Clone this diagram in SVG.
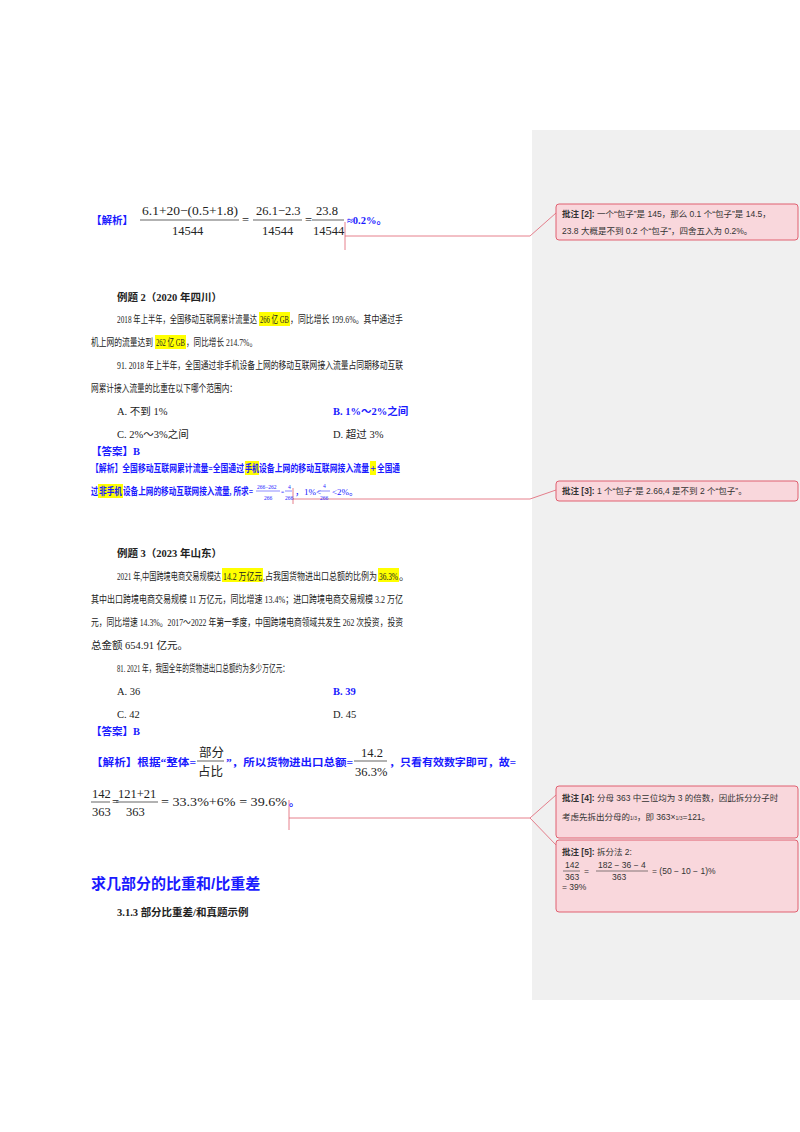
<svg xmlns="http://www.w3.org/2000/svg" width="800" height="1132" viewBox="0 0 800 1132">
<style>
text{font-family:"Liberation Serif","Noto Sans CJK SC",serif;font-size:10.5px;fill:#222}
.b{font-weight:bold}
.bl{fill:#1a1aff;font-weight:bold}
.blt{fill:#1a1aff}
.hl{fill:#ffff00}
.cm{font-family:"Liberation Sans","Noto Sans CJK SC",sans-serif;font-size:8.5px;fill:#333}
.box{fill:#f9d7dc;stroke:#e06070;stroke-width:1}
.ln{stroke:#e06070;stroke-width:0.8;fill:none}
.m{font-size:12.5px}
.s{font-size:5.5px;fill:#1a1aff}
.h{font-family:"Liberation Sans","Noto Sans CJK SC",sans-serif;font-size:15px;font-weight:bold;fill:#1a1aff}
</style>
<rect width="800" height="1132" fill="#fff"/>
<rect x="532" y="130" width="268" height="870" fill="#f0f0f0"/>
<g id="connectors">
<path class="ln" d="M345 222V250M345 236H530L556 213"/>
<path class="ln" d="M293 488V504M293 499H530L556 490"/>
<path class="ln" d="M289 800V830M289 818H530L556 795M530 818L556 845"/>
</g>
<g id="c2"><rect class="box" x="556" y="204" width="242" height="36" rx="3"/>
<text class="cm" x="562" y="217"><tspan class="b">批注 [2]:</tspan> 一个“包子”是 145，那么 0.1 个“包子”是 14.5，</text>
<text class="cm" x="562" y="234">23.8 大概是不到 0.2 个“包子”，四舍五入为 0.2%。</text></g>
<g id="c3"><rect class="box" x="556" y="481" width="242" height="20" rx="3"/>
<text class="cm" x="562" y="494"><tspan class="b">批注 [3]:</tspan> 1 个“包子”是 2.66,4 是不到 2 个“包子”。</text></g>
<g id="c4"><rect class="box" x="556" y="786" width="242" height="52" rx="3"/>
<text class="cm" x="562" y="801"><tspan class="b">批注 [4]:</tspan> 分母 363 中三位均为 3 的倍数，因此拆分分子时</text>
<text class="cm" x="562" y="820">考虑先拆出分母的<tspan font-size="5">1/3</tspan>，即 363×<tspan font-size="5">1/3</tspan>=121。</text></g>
<g id="c5"><rect class="box" x="556" y="840" width="242" height="72" rx="3"/>
<text class="cm" x="562" y="855"><tspan class="b">批注 [5]:</tspan> 拆分法 2:</text>
<text class="cm" x="565" y="868">142</text><line x1="563" y1="871" x2="580" y2="871" stroke="#333" stroke-width="0.6"/><text class="cm" x="565" y="880">363</text>
<text class="cm" x="584" y="874">=</text>
<text class="cm" x="598" y="868">182 − 36 − 4</text><line x1="596" y1="871" x2="648" y2="871" stroke="#333" stroke-width="0.6"/><text class="cm" x="612" y="880">363</text>
<text class="cm" x="652" y="874">= (50 − 10 − 1)%</text>
<text class="cm" x="562" y="890">= 39%</text></g>
<g id="p1">
<text class="bl" x="91" y="224">【解析】</text>
<text class="m" x="142" y="215" textLength="96" lengthAdjust="spacingAndGlyphs">6.1+20−(0.5+1.8)</text><line x1="140" y1="220" x2="239" y2="220" stroke="#222" stroke-width="0.7"/><text class="m" x="172" y="235">14544</text>
<text class="m" x="242" y="224">=</text>
<text class="m" x="256" y="215">26.1−2.3</text><line x1="253" y1="220" x2="302" y2="220" stroke="#222" stroke-width="0.7"/><text class="m" x="262" y="235">14544</text>
<text class="m" x="305" y="224">=</text>
<text class="m" x="316" y="215">23.8</text><line x1="312" y1="220" x2="344" y2="220" stroke="#222" stroke-width="0.7"/><text class="m" x="313" y="235">14544</text>
<text class="bl" x="347" y="224">≈0.2%。</text>
</g>
<g id="ex2">
<text class="b" x="117" y="301">例题 2（2020 年四川）</text>
<rect class="hl" x="259" y="312" width="31" height="14"/><rect class="hl" x="155" y="335" width="31" height="14"/>
<text x="117" y="323" textLength="140" lengthAdjust="spacingAndGlyphs">2018 年上半年，全国移动互联网累计流量达</text>
<text x="260" y="323" textLength="29" lengthAdjust="spacingAndGlyphs">266 亿 GB</text>
<text x="290" y="323" textLength="113" lengthAdjust="spacingAndGlyphs">，同比增长 199.6%。其中通过手</text>
<text x="91" y="346" textLength="62" lengthAdjust="spacingAndGlyphs">机上网的流量达到</text>
<text x="156" y="346" textLength="29" lengthAdjust="spacingAndGlyphs">262 亿 GB</text>
<text x="186" y="346" textLength="71" lengthAdjust="spacingAndGlyphs">，同比增长 214.7%。</text>
<text x="117" y="369" textLength="286" lengthAdjust="spacingAndGlyphs">91. 2018 年上半年，全国通过非手机设备上网的移动互联网接入流量占同期移动互联</text>
<text x="91" y="392" textLength="146" lengthAdjust="spacingAndGlyphs">网累计接入流量的比重在以下哪个范围内：</text>
<text x="117" y="415">A. 不到 1%</text><text class="bl" x="333" y="415">B. 1%～2%之间</text>
<text x="117" y="438">C. 2%～3%之间</text><text x="333" y="438">D. 超过 3%</text>
<text class="bl" x="91" y="455">【答案】B</text>
<rect class="hl" x="245" y="461" width="14" height="14"/><rect class="hl" x="370" y="461" width="6" height="14"/><rect class="hl" x="98" y="484" width="25" height="14"/>
<text class="bl" x="91" y="472" textLength="153" lengthAdjust="spacingAndGlyphs">【解析】全国移动互联网累计流量=全国通过</text>
<text class="bl" x="245" y="472" textLength="14" lengthAdjust="spacingAndGlyphs">手机</text>
<text class="bl" x="259" y="472" textLength="110" lengthAdjust="spacingAndGlyphs">设备上网的移动互联网接入流量</text>
<text class="bl" x="370" y="472">+</text>
<text class="bl" x="377" y="472" textLength="23" lengthAdjust="spacingAndGlyphs">全国通</text>
<text class="bl" x="91" y="495" textLength="7" lengthAdjust="spacingAndGlyphs">过</text>
<text class="bl" x="99" y="495" textLength="23" lengthAdjust="spacingAndGlyphs">非手机</text>
<text class="bl" x="123" y="495" textLength="130" lengthAdjust="spacingAndGlyphs">设备上网的移动互联网接入流量, 所求=</text>
<text class="s" x="257" y="489">266−262</text><line x1="256" y1="491" x2="280" y2="491" stroke="#1a1aff" stroke-width="0.5"/><text class="s" x="264" y="500">266</text>
<text class="s" x="281" y="494">=</text>
<text class="s" x="288" y="489">4</text><line x1="285" y1="491" x2="292" y2="491" stroke="#1a1aff" stroke-width="0.5"/><text class="s" x="285" y="500">266</text>
<text class="blt" x="295" y="495" style="font-size:9px">，1%&lt;</text><text class="s" x="323" y="488">4</text><line x1="318" y1="491" x2="330" y2="491" stroke="#1a1aff" stroke-width="0.5"/><text class="s" x="320" y="500">266</text><text class="blt" x="332" y="495" style="font-size:9px">&lt;2%。</text>
</g>
<g id="ex3">
<text class="b" x="117" y="557">例题 3（2023 年山东）</text>
<rect class="hl" x="222" y="568" width="41" height="14"/><rect class="hl" x="378" y="568" width="21" height="14"/>
<text x="117" y="580" textLength="104" lengthAdjust="spacingAndGlyphs">2021 年,中国跨境电商交易规模达</text>
<text x="223" y="580" textLength="39" lengthAdjust="spacingAndGlyphs">14.2 万亿元</text>
<text x="263" y="580" textLength="114" lengthAdjust="spacingAndGlyphs">,占我国货物进出口总额的比例为</text>
<text x="379" y="580" textLength="19" lengthAdjust="spacingAndGlyphs">36.3%</text>
<text x="399" y="580">。</text>
<text x="91" y="603" textLength="312" lengthAdjust="spacingAndGlyphs">其中出口跨境电商交易规模 11 万亿元，同比增速 13.4%；进口跨境电商交易规模 3.2 万亿</text>
<text x="91" y="626" textLength="312" lengthAdjust="spacingAndGlyphs">元，同比增速 14.3%。2017～2022 年第一季度，中国跨境电商领域共发生 262 次投资，投资</text>
<text x="91" y="649">总金额 654.91 亿元。</text>
<text x="117" y="672" textLength="172" lengthAdjust="spacingAndGlyphs">81. 2021 年，我国全年的货物进出口总额约为多少万亿元：</text>
<text x="117" y="695">A. 36</text><text class="bl" x="333" y="695">B. 39</text>
<text x="117" y="718">C. 42</text><text x="333" y="718">D. 45</text>
<text class="bl" x="91" y="735">【答案】B</text>
<text class="bl" x="91" y="766" textLength="105" lengthAdjust="spacingAndGlyphs">【解析】根据“整体=</text>
<text class="m" x="199" y="757">部分</text><line x1="197" y1="761" x2="224" y2="761" stroke="#222" stroke-width="0.7"/><text class="m" x="198" y="776">占比</text>
<text class="bl" x="226" y="766" textLength="127" lengthAdjust="spacingAndGlyphs">”，所以货物进出口总额=</text>
<text class="m" x="361" y="757">14.2</text><line x1="354" y1="761" x2="387" y2="761" stroke="#222" stroke-width="0.7"/><text class="m" x="355" y="776">36.3%</text>
<text class="bl" x="389" y="766" textLength="127" lengthAdjust="spacingAndGlyphs">，只看有效数字即可，故=</text>
<text class="m" x="92" y="798">142</text><line x1="91" y1="802" x2="110" y2="802" stroke="#222" stroke-width="0.7"/><text class="m" x="92" y="816">363</text>
<text class="m" x="112" y="806">=</text>
<text class="m" x="118" y="798">121+21</text><line x1="116" y1="802" x2="158" y2="802" stroke="#222" stroke-width="0.7"/><text class="m" x="126" y="816">363</text>
<text class="m" x="161" y="806" textLength="126" lengthAdjust="spacingAndGlyphs">= 33.3%+6% = 39.6%</text><text class="bl" x="289" y="806">。</text>
</g>
<text class="h" x="91" y="889">求几部分的比重和/比重差</text>
<text class="b" x="117" y="916">3.1.3  部分比重差/和真题示例</text>
</svg>
